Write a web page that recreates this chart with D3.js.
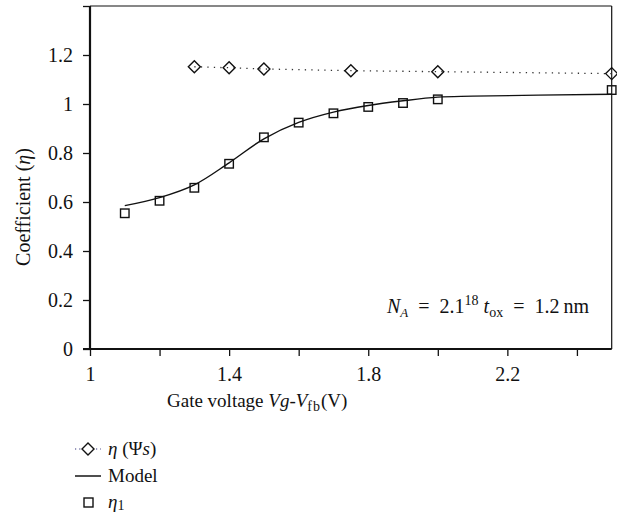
<!DOCTYPE html>
<html><head><meta charset="utf-8">
<script src="https://cdn.jsdelivr.net/npm/d3@7/dist/d3.min.js"></script>
<style>
body{margin:0;background:#fff;}
text{font-family:"Liberation Serif","Times New Roman",serif;fill:#111;}
</style></head>
<body><svg id="c" width="617" height="517"></svg>
<script>
// Data
const psiX = [1.3, 1.4, 1.5, 1.75, 2.0, 2.5];
const psiY = [1.152, 1.148, 1.143, 1.136, 1.132, 1.124];
const modelX = [1.1, 1.2, 1.3, 1.4, 1.5, 1.6, 1.7, 1.8, 1.9, 2.0, 2.1, 2.5];
const modelY = [0.585, 0.618, 0.67, 0.76, 0.858, 0.925, 0.967, 0.994, 1.013, 1.028, 1.032, 1.04];
const eta1X = [1.1, 1.2, 1.3, 1.4, 1.5, 1.6, 1.7, 1.8, 1.9, 2.0, 2.5];
const eta1Y = [0.554, 0.605, 0.658, 0.756, 0.864, 0.924, 0.962, 0.988, 1.004, 1.019, 1.057];
const yTicks = [0, 0.2, 0.4, 0.6, 0.8, 1.0, 1.2, 1.4];
const yTickLabels = ["0", "0.2", "0.4", "0.6", "0.8", "1", "1.2", ""];
const xTicks = [1.0, 1.2, 1.4, 1.6, 1.8, 2.0, 2.2, 2.4];
const xTickLabels = ["1", "", "1.4", "", "1.8", "", "2.2", ""];

const svg = d3.select("#c");
const L = 90, R = 611.7, T = 6, B = 349;
const x = d3.scaleLinear().domain([1, 2.5]).range([L, R]);
const y = d3.scaleLinear().domain([0, 1.4]).range([B, T]);

// frame (top & right thin)
svg.append("line").attr("x1", L).attr("x2", R).attr("y1", T).attr("y2", T).attr("stroke", "#111").attr("stroke-width", 1.2);
svg.append("line").attr("x1", R).attr("x2", R).attr("y1", T).attr("y2", B).attr("stroke", "#111").attr("stroke-width", 1.2);

// axes
const yAxis = d3.axisLeft(y).tickValues(yTicks).tickSize(7).tickPadding(10)
  .tickFormat((d, i) => yTickLabels[i]);
const gy = svg.append("g").attr("transform", `translate(${L},0)`).call(yAxis);
gy.select(".domain").attr("stroke", "#111").attr("stroke-width", 2.2).attr("d", `M0,${T}V${B}`);
gy.selectAll(".tick line").attr("stroke", "#111").attr("stroke-width", 1.3);
gy.selectAll(".tick text").style("font-size", "20px").attr("fill", "#111").style("font-family", "Liberation Serif");

const xAxis = d3.axisBottom(x).tickValues(xTicks).tickSize(7).tickPadding(11)
  .tickFormat((d, i) => xTickLabels[i]);
const gx = svg.append("g").attr("transform", `translate(0,${B})`).call(xAxis);
gx.select(".domain").attr("stroke", "#111").attr("stroke-width", 2.2).attr("d", `M${L - 7},0H${R}`);
gx.selectAll(".tick line").attr("stroke", "#111").attr("stroke-width", 1.3);
gx.selectAll(".tick text").style("font-size", "20px").attr("fill", "#111").style("font-family", "Liberation Serif");

// dotted psi line
const psi = psiX.map((v, i) => [v, psiY[i]]);
svg.append("path").datum(psi)
  .attr("d", d3.line().x(d => x(d[0])).y(d => y(d[1])))
  .attr("fill", "none").attr("stroke", "#333").attr("stroke-width", 1.3)
  .attr("stroke-dasharray", "1.3,5.2");

// model line
const model = modelX.map((v, i) => [v, modelY[i]]);
svg.append("path").datum(model)
  .attr("d", d3.line().curve(d3.curveCatmullRom.alpha(0.5)).x(d => x(d[0])).y(d => y(d[1])))
  .attr("fill", "none").attr("stroke", "#111").attr("stroke-width", 1.4);

// diamonds
const dsz = 6;
svg.append("g").selectAll("path").data(psi).join("path")
  .attr("d", d => `M${x(d[0])},${y(d[1]) - dsz}L${x(d[0]) + dsz},${y(d[1])}L${x(d[0])},${y(d[1]) + dsz}L${x(d[0]) - dsz},${y(d[1])}Z`)
  .attr("fill", "none").attr("stroke", "#111").attr("stroke-width", 1.4);

// squares
const eta = eta1X.map((v, i) => [v, eta1Y[i]]);
const s = 8.5;
svg.append("g").selectAll("rect").data(eta).join("rect")
  .attr("x", d => x(d[0]) - s / 2).attr("y", d => y(d[1]) - s / 2)
  .attr("width", s).attr("height", s)
  .attr("fill", "none").attr("stroke", "#111").attr("stroke-width", 1.4);

// annotation
const ann = svg.append("text").attr("x", 387).attr("y", 313).style("font-size", "20px");
ann.append("tspan").text("N").style("font-style", "italic");
ann.append("tspan").text("A").style("font-style", "italic").style("font-size", "13px").attr("dy", 4);
ann.append("tspan").text("\u2002=\u20022.1").attr("dy", -4);
ann.append("tspan").text("18").style("font-size", "14px").attr("dy", -8);
ann.append("tspan").text(" t").style("font-style", "italic").attr("dy", 8);
ann.append("tspan").text("ox").style("font-size", "14px").attr("dy", 4);
ann.append("tspan").text("\u2002=\u20021.2\u2009nm").attr("dy", -4);

// x title
const xt = svg.append("text").attr("x", 167).attr("y", 407).style("font-size", "19px");
xt.append("tspan").text("Gate voltage ");
xt.append("tspan").text("Vg").style("font-style", "italic");
xt.append("tspan").text("-");
xt.append("tspan").text("V").style("font-style", "italic");
xt.append("tspan").text("fb").style("font-size", "14px").attr("dy", 4).attr("letter-spacing", "1");
xt.append("tspan").text("(V)").attr("dy", -4);

// y title
const yt = svg.append("text").attr("transform", "translate(30,207) rotate(-90)")
  .attr("text-anchor", "middle").style("font-size", "20px");
yt.append("tspan").text("Coefficient (");
yt.append("tspan").text("η").style("font-style", "italic");
yt.append("tspan").text(")");

// legend
const lg = svg.append("g");
const r1 = 449, r2 = 476, r3 = 502;
lg.append("line").attr("x1", 75).attr("x2", 101).attr("y1", r1).attr("y2", r1)
  .attr("stroke", "#33337a").attr("stroke-width", 1.2).attr("stroke-dasharray", "1.2,3");
lg.append("path").attr("d", `M88,${r1 - 6}L94,${r1}L88,${r1 + 6}L82,${r1}Z`)
  .attr("fill", "#fff").attr("stroke", "#111").attr("stroke-width", 1.4);
const t1 = lg.append("text").attr("x", 108).attr("y", r1 + 6).style("font-size", "19px");
t1.append("tspan").text("η").style("font-style", "italic");
t1.append("tspan").text(" (Ψ");
t1.append("tspan").text("s").style("font-style", "italic");
t1.append("tspan").text(")");
lg.append("line").attr("x1", 75).attr("x2", 101).attr("y1", r2).attr("y2", r2)
  .attr("stroke", "#222").attr("stroke-width", 1.6);
lg.append("text").attr("x", 108).attr("y", r2 + 6).style("font-size", "19px").text("Model");
lg.append("rect").attr("x", 84).attr("y", r3 - 4).attr("width", 9).attr("height", 9)
  .attr("fill", "none").attr("stroke", "#111").attr("stroke-width", 1.4);
const t3 = lg.append("text").attr("x", 108).attr("y", r3 + 6).style("font-size", "19px");
t3.append("tspan").text("η").style("font-style", "italic");
t3.append("tspan").text("1").style("font-size", "14px").attr("dy", 2);
</script></body></html>
